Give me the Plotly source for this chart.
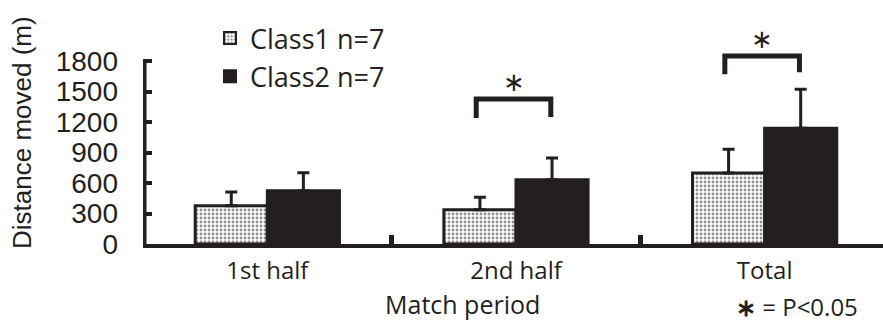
import plotly.graph_objects as go

categories = ["1st half", "2nd half", "Total"]
class1_mean = [377, 338, 698]
class1_sd = [135, 121, 235]
class2_mean = [524, 632, 1139]
class2_sd = [177, 213, 382]
y_ticks = [0, 300, 600, 900, 1200, 1500, 1800]
# significance brackets: (category index, top y, left leg bottom, right leg bottom)
brackets = [(1, 1426, 1240, 1250), (2, 1848, 1670, 1690)]

INK = "#231f20"
W, H = 883, 322
L, R, T, B = 143, 0, 0, 78

fig = go.Figure()
fig.add_trace(go.Bar(
    name="Class1 n=7", x=categories, y=class1_mean,
    marker=dict(color="white", line=dict(color=INK, width=3),
                pattern=dict(shape=".", fgcolor=INK, bgcolor="white", size=4, solidity=0.4)),
    error_y=dict(type="data", array=class1_sd, arrayminus=[0] * 3, symmetric=False,
                 color=INK, thickness=3, width=6),
))
fig.add_trace(go.Bar(
    name="Class2 n=7", x=categories, y=class2_mean,
    marker=dict(color=INK, line=dict(color=INK, width=3)),
    error_y=dict(type="data", array=class2_sd, arrayminus=[0] * 3, symmetric=False,
                 color=INK, thickness=3, width=6),
))

shapes = []
annotations = []
for ci, ytop, yl, yr in brackets:
    xl, xr = ci - 0.16, ci + 0.14
    shapes.append(dict(type="path", xref="x", yref="y",
                       path=f"M {xl},{yl} L {xl},{ytop} L {xr},{ytop} L {xr},{yr}",
                       line=dict(color=INK, width=5)))
    annotations.append(dict(x=(xl + xr) / 2, y=ytop, xref="x", yref="y", text="∗",
                            showarrow=False, yanchor="bottom", yshift=0,
                            font=dict(family="DejaVu Sans", size=26, color=INK)))

# y axis line from 0 to 1800
shapes.append(dict(type="line", xref="x", yref="y", x0=-0.5, x1=-0.5, y0=0, y1=y_ticks[-1],
                   line=dict(color=INK, width=7)))

annotations.append(dict(xref="paper", yref="paper", x=0, y=1, xanchor="center", yanchor="middle",
                        xshift=-(L - 22), yshift=-(133 - T), textangle=-90,
                        text="Distance moved (m)", showarrow=False,
                        font=dict(family="Liberation Sans", size=26, color=INK)))
annotations.append(dict(xref="paper", yref="paper", x=0, y=1, xanchor="center", yanchor="middle",
                        xshift=462 - L, yshift=-(304 - T), text="Match period", showarrow=False,
                        font=dict(family="Open Sans", size=25, color=INK)))
annotations.append(dict(xref="paper", yref="paper", x=0, y=1, xanchor="left", yanchor="middle",
                        xshift=734 - L, yshift=-(306 - T),
                        text="<b>∗</b> = P<0.05", showarrow=False,
                        font=dict(family="Open Sans", size=24, color=INK)))

fig.update_layout(
    width=W, height=H, autosize=False,
    margin=dict(l=L, r=R, t=T, b=B, pad=0),
    paper_bgcolor="white", plot_bgcolor="white",
    barmode="group", bargap=0.42, bargroupgap=0,
    showlegend=True,
    legend=dict(x=(210 - L) / (W - L - R), y=1 - (14 - T) / (H - T - B), xanchor="left", yanchor="top",
                font=dict(family="Open Sans", size=27, color=INK), bgcolor="rgba(0,0,0,0)",
                itemsizing="constant", tracegroupgap=0),
    shapes=shapes, annotations=annotations,
    xaxis=dict(range=[-0.5, 2.476], showline=True, linecolor=INK, linewidth=4,
               ticks="inside", tickson="boundaries", ticklen=9, tickwidth=5, tickcolor=INK,
               showgrid=False, zeroline=False,
               tickfont=dict(family="Open Sans", size=24, color=INK), ticklabelstandoff=2),
    yaxis=dict(range=[0, 2400], tickvals=y_ticks, showline=False, showgrid=False, zeroline=False,
               ticks="inside", ticklen=9, tickwidth=4, tickcolor=INK,
               tickfont=dict(family="Liberation Sans", size=28, color=INK),
               ticklabelstandoff=24),
)

fig.write_html("out.html", config={"displayModeBar": False},
               post_script="document.body.style.margin='0';")
